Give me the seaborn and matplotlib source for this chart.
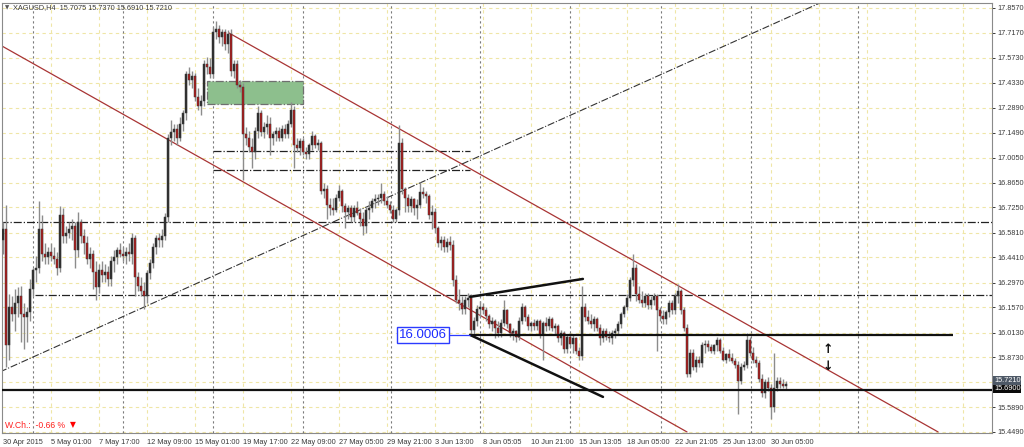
import numpy as np
import pandas as pd
import matplotlib
matplotlib.use("Agg")
import matplotlib.pyplot as plt
import seaborn as sns

# XAGUSD H4 bars (one value per bar)
opens = [
    16.54, 16.60, 15.94, 16.16, 16.12, 16.18, 16.22, 16.12, 16.10, 16.13,
    16.26, 16.37, 16.38, 16.60, 16.46, 16.44, 16.47, 16.45, 16.43, 16.38,
    16.68, 16.56, 16.58, 16.60, 16.62, 16.48, 16.64, 16.56, 16.52, 16.43,
    16.46, 16.36, 16.27, 16.37, 16.34, 16.36, 16.32, 16.42, 16.44, 16.48,
    16.46, 16.45, 16.47, 16.46, 16.55, 16.33, 16.28, 16.25, 16.22, 16.35,
    16.41, 16.50, 16.55, 16.54, 16.56, 16.67, 17.12, 17.15, 17.17, 17.12,
    17.20, 17.26, 17.48, 17.45, 17.47, 17.35, 17.30, 17.33, 17.54, 17.52,
    17.48, 17.72, 17.74, 17.69, 17.72, 17.65, 17.71, 17.50, 17.54, 17.42,
    17.41, 17.14, 17.12, 17.07, 17.04, 17.16, 17.26, 17.15, 17.18, 17.20,
    17.12, 17.14, 17.16, 17.12, 17.17, 17.14, 17.20, 17.28, 17.08, 17.06,
    17.10, 17.04, 17.03, 17.08, 17.13, 17.08, 17.09, 16.82, 16.83, 16.74,
    16.72, 16.71, 16.78, 16.82, 16.73, 16.70, 16.72, 16.67, 16.72, 16.69,
    16.66, 16.62, 16.71, 16.72, 16.76, 16.77, 16.78, 16.80, 16.76, 16.74,
    16.71, 16.66, 16.71, 17.09, 16.83, 16.78, 16.73, 16.77, 16.72, 16.74,
    16.81, 16.80, 16.79, 16.68, 16.70, 16.61, 16.52, 16.54, 16.50, 16.53,
    16.51, 16.31, 16.20, 16.18, 16.15, 16.20, 16.21, 16.03, 16.08, 16.15,
    16.16, 16.14, 16.11, 16.06, 16.08, 16.04, 16.01, 16.07, 16.14, 16.06,
    16.01, 16.02, 15.99, 16.08, 16.16, 16.10, 16.05, 16.07, 16.05, 16.08,
    16.00, 16.07, 16.05, 16.09, 16.04, 16.05, 15.98, 16.01, 15.92, 15.99,
    15.95, 15.98, 15.91, 15.88, 16.16, 16.10, 16.08, 16.06, 16.09, 16.04,
    15.98, 16.02, 15.99, 15.98, 16.01, 16.02, 16.06, 16.12, 16.16, 16.21,
    16.31, 16.38, 16.23, 16.20, 16.18, 16.22, 16.17, 16.20, 16.22, 16.14,
    16.11, 16.09, 16.13, 16.18, 16.14, 16.22, 16.25, 16.14, 16.04, 15.78,
    15.90, 15.82, 15.86, 15.84, 15.94, 15.95, 15.93, 15.91, 15.94, 15.97,
    15.91, 15.86, 15.89, 15.87, 15.85, 15.83, 15.74, 15.82, 15.83, 15.97,
    15.90, 15.86, 15.84, 15.75, 15.67, 15.73, 15.70, 15.59, 15.70, 15.74,
    15.72, 15.71,
]
highs = [
    16.64, 16.74, 16.23, 16.22, 16.26, 16.27, 16.28, 16.18, 16.16, 16.32,
    16.38, 16.45, 16.76, 16.68, 16.52, 16.50, 16.52, 16.50, 16.47, 16.73,
    16.72, 16.62, 16.64, 16.66, 16.64, 16.70, 16.66, 16.60, 16.56, 16.50,
    16.48, 16.42, 16.40, 16.42, 16.40, 16.39, 16.45, 16.48, 16.50, 16.52,
    16.50, 16.50, 16.52, 16.58, 16.57, 16.36, 16.33, 16.30, 16.37, 16.43,
    16.52, 16.57, 16.58, 16.60, 16.69, 17.14, 17.22, 17.20, 17.20, 17.24,
    17.28, 17.50, 17.52, 17.50, 17.49, 17.40, 17.36, 17.56, 17.58, 17.57,
    17.75, 17.78, 17.76, 17.74, 17.74, 17.73, 17.74, 17.56, 17.56, 17.45,
    17.43, 17.18, 17.16, 17.12, 17.18, 17.30, 17.28, 17.21, 17.25, 17.24,
    17.16, 17.18, 17.18, 17.19, 17.20, 17.22, 17.32, 17.30, 17.12, 17.12,
    17.12, 17.07, 17.09, 17.16, 17.14, 17.11, 17.10, 16.86, 16.85, 16.78,
    16.78, 16.80, 16.85, 16.83, 16.75, 16.74, 16.74, 16.74, 16.76, 16.72,
    16.70, 16.73, 16.76, 16.78, 16.80, 16.80, 16.86, 16.82, 16.79, 16.76,
    16.74, 16.72, 17.19, 17.12, 16.84, 16.80, 16.79, 16.78, 16.77, 16.87,
    16.84, 16.82, 16.80, 16.74, 16.72, 16.62, 16.56, 16.56, 16.55, 16.56,
    16.54, 16.34, 16.26, 16.22, 16.22, 16.24, 16.23, 16.10, 16.17, 16.19,
    16.18, 16.16, 16.12, 16.10, 16.09, 16.08, 16.09, 16.20, 16.15, 16.07,
    16.04, 16.03, 16.10, 16.18, 16.17, 16.12, 16.08, 16.09, 16.09, 16.09,
    16.08, 16.10, 16.11, 16.10, 16.07, 16.06, 16.03, 16.02, 16.00, 16.01,
    16.00, 15.99, 15.93, 16.28, 16.18, 16.14, 16.12, 16.11, 16.10, 16.06,
    16.04, 16.04, 16.02, 16.03, 16.04, 16.08, 16.13, 16.17, 16.23, 16.33,
    16.46, 16.40, 16.28, 16.25, 16.24, 16.24, 16.22, 16.24, 16.23, 16.16,
    16.14, 16.14, 16.20, 16.20, 16.24, 16.29, 16.26, 16.16, 16.06, 15.92,
    15.92, 15.88, 15.88, 15.96, 15.97, 15.97, 15.95, 15.95, 15.99, 15.98,
    15.93, 15.90, 15.92, 15.90, 15.87, 15.85, 15.84, 15.85, 16.01, 15.99,
    15.93, 15.88, 15.86, 15.78, 15.75, 15.76, 15.72, 15.90, 15.76, 15.76,
    15.75, 15.74,
]
lows = [
    16.46, 15.82, 15.86, 16.08, 16.02, 16.10, 15.96, 15.92, 15.96, 16.08,
    16.22, 16.30, 16.35, 16.42, 16.40, 16.40, 16.42, 16.40, 16.34, 16.36,
    16.52, 16.52, 16.55, 16.54, 16.38, 16.44, 16.52, 16.46, 16.40, 16.38,
    16.26, 16.20, 16.24, 16.30, 16.30, 16.28, 16.28, 16.36, 16.40, 16.44,
    16.42, 16.40, 16.42, 16.40, 16.22, 16.25, 16.22, 16.15, 16.18, 16.32,
    16.38, 16.46, 16.50, 16.50, 16.54, 16.64, 17.08, 17.10, 17.08, 17.10,
    17.16, 17.22, 17.42, 17.40, 17.33, 17.28, 17.25, 17.30, 17.48, 17.46,
    17.46, 17.68, 17.66, 17.64, 17.62, 17.60, 17.47, 17.46, 17.40, 17.38,
    16.88, 17.08, 17.04, 16.95, 17.00, 17.12, 17.13, 17.12, 17.14, 17.02,
    17.08, 17.10, 17.10, 17.10, 17.12, 17.12, 17.18, 16.95, 17.04, 17.02,
    17.02, 17.00, 17.00, 17.05, 17.06, 17.05, 16.80, 16.78, 16.66, 16.68,
    16.68, 16.70, 16.76, 16.70, 16.61, 16.66, 16.64, 16.64, 16.68, 16.62,
    16.57, 16.58, 16.66, 16.70, 16.72, 16.74, 16.75, 16.74, 16.72, 16.69,
    16.64, 16.64, 16.68, 16.80, 16.70, 16.70, 16.70, 16.68, 16.66, 16.72,
    16.78, 16.75, 16.66, 16.60, 16.58, 16.50, 16.48, 16.47, 16.47, 16.48,
    16.28, 16.18, 16.14, 16.12, 16.12, 16.16, 16.00, 16.00, 16.05, 16.10,
    16.12, 16.08, 16.04, 16.02, 15.98, 15.99, 15.99, 16.05, 16.04, 15.99,
    15.97, 15.96, 15.97, 16.06, 16.08, 16.03, 16.02, 16.03, 16.03, 15.98,
    15.86, 16.02, 16.03, 16.02, 16.00, 15.96, 15.94, 15.90, 15.90, 15.93,
    15.90, 15.89, 15.86, 15.86, 16.08, 16.06, 16.04, 16.02, 16.02, 15.94,
    15.96, 15.97, 15.96, 15.95, 15.98, 16.00, 16.04, 16.10, 16.14, 16.19,
    16.28, 16.19, 16.18, 16.16, 16.16, 16.15, 16.15, 16.17, 15.91, 16.08,
    16.06, 16.06, 16.10, 16.12, 16.12, 16.18, 16.12, 16.02, 15.76, 15.76,
    15.80, 15.79, 15.82, 15.82, 15.90, 15.91, 15.90, 15.89, 15.91, 15.90,
    15.85, 15.84, 15.85, 15.84, 15.81, 15.55, 15.72, 15.80, 15.81, 15.88,
    15.84, 15.82, 15.73, 15.65, 15.64, 15.68, 15.52, 15.56, 15.68, 15.70,
    15.70, 15.69,
]
closes = [
    16.60, 15.94, 16.16, 16.12, 16.18, 16.22, 16.12, 16.10, 16.13, 16.26,
    16.37, 16.38, 16.60, 16.46, 16.44, 16.47, 16.45, 16.43, 16.38, 16.68,
    16.56, 16.58, 16.60, 16.62, 16.48, 16.64, 16.56, 16.52, 16.43, 16.46,
    16.36, 16.27, 16.37, 16.34, 16.36, 16.32, 16.42, 16.44, 16.48, 16.46,
    16.45, 16.47, 16.46, 16.55, 16.33, 16.28, 16.25, 16.22, 16.35, 16.41,
    16.50, 16.55, 16.54, 16.56, 16.67, 17.12, 17.15, 17.17, 17.12, 17.20,
    17.26, 17.48, 17.45, 17.47, 17.35, 17.30, 17.33, 17.54, 17.52, 17.48,
    17.72, 17.74, 17.69, 17.72, 17.65, 17.71, 17.50, 17.54, 17.42, 17.41,
    17.14, 17.12, 17.07, 17.04, 17.16, 17.26, 17.15, 17.18, 17.20, 17.12,
    17.14, 17.16, 17.12, 17.17, 17.14, 17.20, 17.28, 17.08, 17.06, 17.10,
    17.04, 17.03, 17.08, 17.13, 17.08, 17.09, 16.82, 16.83, 16.74, 16.72,
    16.71, 16.78, 16.82, 16.73, 16.70, 16.72, 16.67, 16.72, 16.69, 16.66,
    16.62, 16.71, 16.72, 16.76, 16.77, 16.78, 16.80, 16.76, 16.74, 16.71,
    16.66, 16.71, 17.09, 16.83, 16.78, 16.73, 16.77, 16.72, 16.74, 16.81,
    16.80, 16.79, 16.68, 16.70, 16.61, 16.52, 16.54, 16.50, 16.53, 16.51,
    16.31, 16.20, 16.18, 16.15, 16.20, 16.21, 16.03, 16.08, 16.15, 16.16,
    16.14, 16.11, 16.06, 16.08, 16.04, 16.01, 16.07, 16.14, 16.06, 16.01,
    16.02, 15.99, 16.08, 16.16, 16.10, 16.05, 16.07, 16.05, 16.08, 16.00,
    16.07, 16.05, 16.09, 16.04, 16.05, 15.98, 16.01, 15.92, 15.99, 15.95,
    15.98, 15.91, 15.88, 16.16, 16.10, 16.08, 16.06, 16.09, 16.04, 15.98,
    16.02, 15.99, 15.98, 16.01, 16.02, 16.06, 16.12, 16.16, 16.21, 16.31,
    16.38, 16.23, 16.20, 16.18, 16.22, 16.17, 16.20, 16.22, 16.14, 16.11,
    16.09, 16.13, 16.18, 16.14, 16.22, 16.25, 16.14, 16.04, 15.78, 15.90,
    15.82, 15.86, 15.84, 15.94, 15.95, 15.93, 15.91, 15.94, 15.97, 15.91,
    15.86, 15.89, 15.87, 15.85, 15.83, 15.74, 15.82, 15.83, 15.97, 15.90,
    15.86, 15.84, 15.75, 15.67, 15.73, 15.70, 15.59, 15.70, 15.74, 15.72,
    15.71, 15.72,
]

# time axis labels, one every 16 bars
time_labels = ["30 Apr 2015", "5 May 01:00", "7 May 17:00", "12 May 09:00",
               "15 May 01:00", "19 May 17:00", "22 May 09:00", "27 May 05:00",
               "29 May 21:00", "3 Jun 13:00", "8 Jun 05:05", "10 Jun 21:00",
               "15 Jun 13:05", "18 Jun 05:00", "22 Jun 21:05", "25 Jun 13:00",
               "30 Jun 05:00"]
price_ticks = [17.857, 17.717, 17.573, 17.433, 17.289, 17.149, 17.005, 16.865,
               16.725, 16.581, 16.441, 16.297, 16.157, 16.013, 15.873, 15.589, 15.449]
week_separators = [10, 40, 70, 100, 129.3, 159, 189, 219.3, 249.3, 285]

# drawn objects (bar index, price)
channel_upper = ([75.3, 311.7], [17.715, 15.449])
channel_lower = ([-1.0, 228.0], [17.647, 15.449])
dashdot_trend = ([-1.0, 272.3], [15.790, 17.885])
hlines_dashdot = [(-1.0, 330.0, 16.642), (10.7, 330.0, 16.227),
                  (70.0, 155.7, 17.045), (70.0, 155.7, 16.937)]
green_zone = (68.0, 100.0, 17.312, 17.442)
support_level = 15.69
pivot_level = (155.7, 316.7, 16.0006)
wedge_upper = ([155.7, 193.3], [16.216, 16.318])
wedge_lower = ([155.7, 200.0], [16.000, 15.648])

sns.set_style("white")
plt.rcParams["font.family"] = ["Liberation Sans", "DejaVu Sans"]

df = pd.DataFrame({"o": opens, "h": highs, "l": lows, "c": closes})
df["bar"] = np.arange(len(df))
up = df["c"] >= df["o"]

fig = plt.figure(figsize=(10.24, 4.47), dpi=100)
ax = fig.add_axes([2 / 1024, 14 / 447, 990 / 1024, 430 / 447])
ax.set_xlim(-0.33, 329.67)
ax.set_ylim(15.443, 17.885)

# grid
grid_c = "#efe6a6"
for v in price_ticks + [15.731]:
    ax.axhline(v, color=grid_c, lw=0.8, ls=(0, (3, 3)), zorder=0)
for k in range(1, 21):
    ax.axvline(16 * k, color=grid_c, lw=0.8, ls=(0, (3, 3)), zorder=0)
for s in week_separators:
    ax.axvline(s, color="#7a7a7a", lw=0.8, ls=(0, (2, 2.5)), zorder=1)

# objects behind candles
x0, x1, y0, y1 = green_zone
ax.add_patch(plt.Rectangle((x0, y0), x1 - x0, y1 - y0, facecolor="#8dbf8d",
                           edgecolor="#6f6f6f", lw=0.9, ls="-.", zorder=1.5))
for a, b, v in hlines_dashdot:
    ax.hlines(v, a, b, color="#222222", lw=0.9, linestyles="-.", zorder=2)
sns.lineplot(x=channel_upper[0], y=channel_upper[1], ax=ax, color="#a83434",
             lw=0.9, sort=False, zorder=2)
sns.lineplot(x=channel_lower[0], y=channel_lower[1], ax=ax, color="#a83434",
             lw=0.9, sort=False, zorder=2)
sns.lineplot(x=dashdot_trend[0], y=dashdot_trend[1], ax=ax, color="#333333",
             lw=0.8, ls="-.", sort=False, zorder=2)

# candles
ax.vlines(df["bar"], df["l"], df["h"], color="#8c8c8c", lw=1.0, zorder=3)
body = (df["c"] - df["o"]).abs().clip(lower=0.006)
ax.bar(df["bar"], body, bottom=df[["o", "c"]].min(axis=1), width=0.72,
       color=np.where(up, "#2e2e2e", "#b31b1b"), edgecolor="#3a3a3a",
       linewidth=0.35, zorder=4)

# levels and wedge
ax.axhline(support_level, color="#111111", lw=1.6, zorder=5)
ax.hlines(pivot_level[2], pivot_level[0], pivot_level[1], color="#111111", lw=1.6, zorder=5)
sns.lineplot(x=wedge_upper[0], y=wedge_upper[1], ax=ax, color="#111111", lw=1.8,
             sort=False, zorder=5)
sns.lineplot(x=wedge_lower[0], y=wedge_lower[1], ax=ax, color="#111111", lw=1.8,
             sort=False, zorder=5)
ax.hlines(pivot_level[2], 148.2, 155.7, color="#2b3bff", lw=0.9, zorder=5)
ax.text(140.0, pivot_level[2], "16.0006", color="#1c2cff", fontsize=9.5,
        ha="center", va="center",
        bbox=dict(boxstyle="square,pad=0.15", fc="white", ec="#2b3bff", lw=1.0), zorder=6)
ax.text(275.0, 15.915, "\u2191", fontsize=9, fontweight="bold", ha="center",
        va="center", color="#111111", family=["DejaVu Sans"], zorder=6)
ax.text(275.0, 15.822, "\u2193", fontsize=9, fontweight="bold", ha="center",
        va="center", color="#111111", family=["DejaVu Sans"], zorder=6)

# axes
for side in ["left", "top", "right", "bottom"]:
    ax.spines[side].set_color("#8a8a8a")
    ax.spines[side].set_linewidth(0.8)
ax.yaxis.tick_right()
ax.set_yticks(price_ticks)
ax.set_yticklabels([f"{v:.4f}" for v in price_ticks])
ax.set_xticks([16 * k for k in range(len(time_labels))])
ax.set_xticklabels(time_labels, ha="left")
ax.tick_params(axis="both", labelsize=5.3, colors="#3a3a3a", length=2.5, width=0.7,
               direction="out", pad=1.5)
ax.set_xlabel("")
ax.set_ylabel("")

# current price tags on the price scale
ax.text(1.002, 15.742, "15.7210", transform=ax.get_yaxis_transform(), fontsize=5.3,
        color="white", va="center", ha="left",
        bbox=dict(boxstyle="square,pad=0.1", fc="#4d5866", ec="none"), zorder=7, clip_on=False)
ax.text(1.002, 15.693, "15.6900", transform=ax.get_yaxis_transform(), fontsize=5.3,
        color="white", va="center", ha="left",
        bbox=dict(boxstyle="square,pad=0.1", fc="#0a0a0a", ec="none"), zorder=7, clip_on=False)

# header and weekly change
fig.text(5 / 1024, 1 - 8 / 447, "\u25bc", fontsize=4, color="#555555", va="center",
         family=["DejaVu Sans"])
fig.text(13 / 1024, 1 - 8 / 447, "XAGUSD,H4  15.7075 15.7370 15.6910 15.7210",
         fontsize=5.3, color="#3a3a3a", va="center")
fig.text(5 / 1024, 1 - 426 / 447, "W.Ch.:  -0.66 %", fontsize=6.2, color="#ff2020", va="center")
fig.text(70 / 1024, 1 - 425 / 447, "\u25bc", fontsize=5.5, color="#ff0000", va="center",
         family=["DejaVu Sans"])

fig.savefig("out.png", dpi=100)
